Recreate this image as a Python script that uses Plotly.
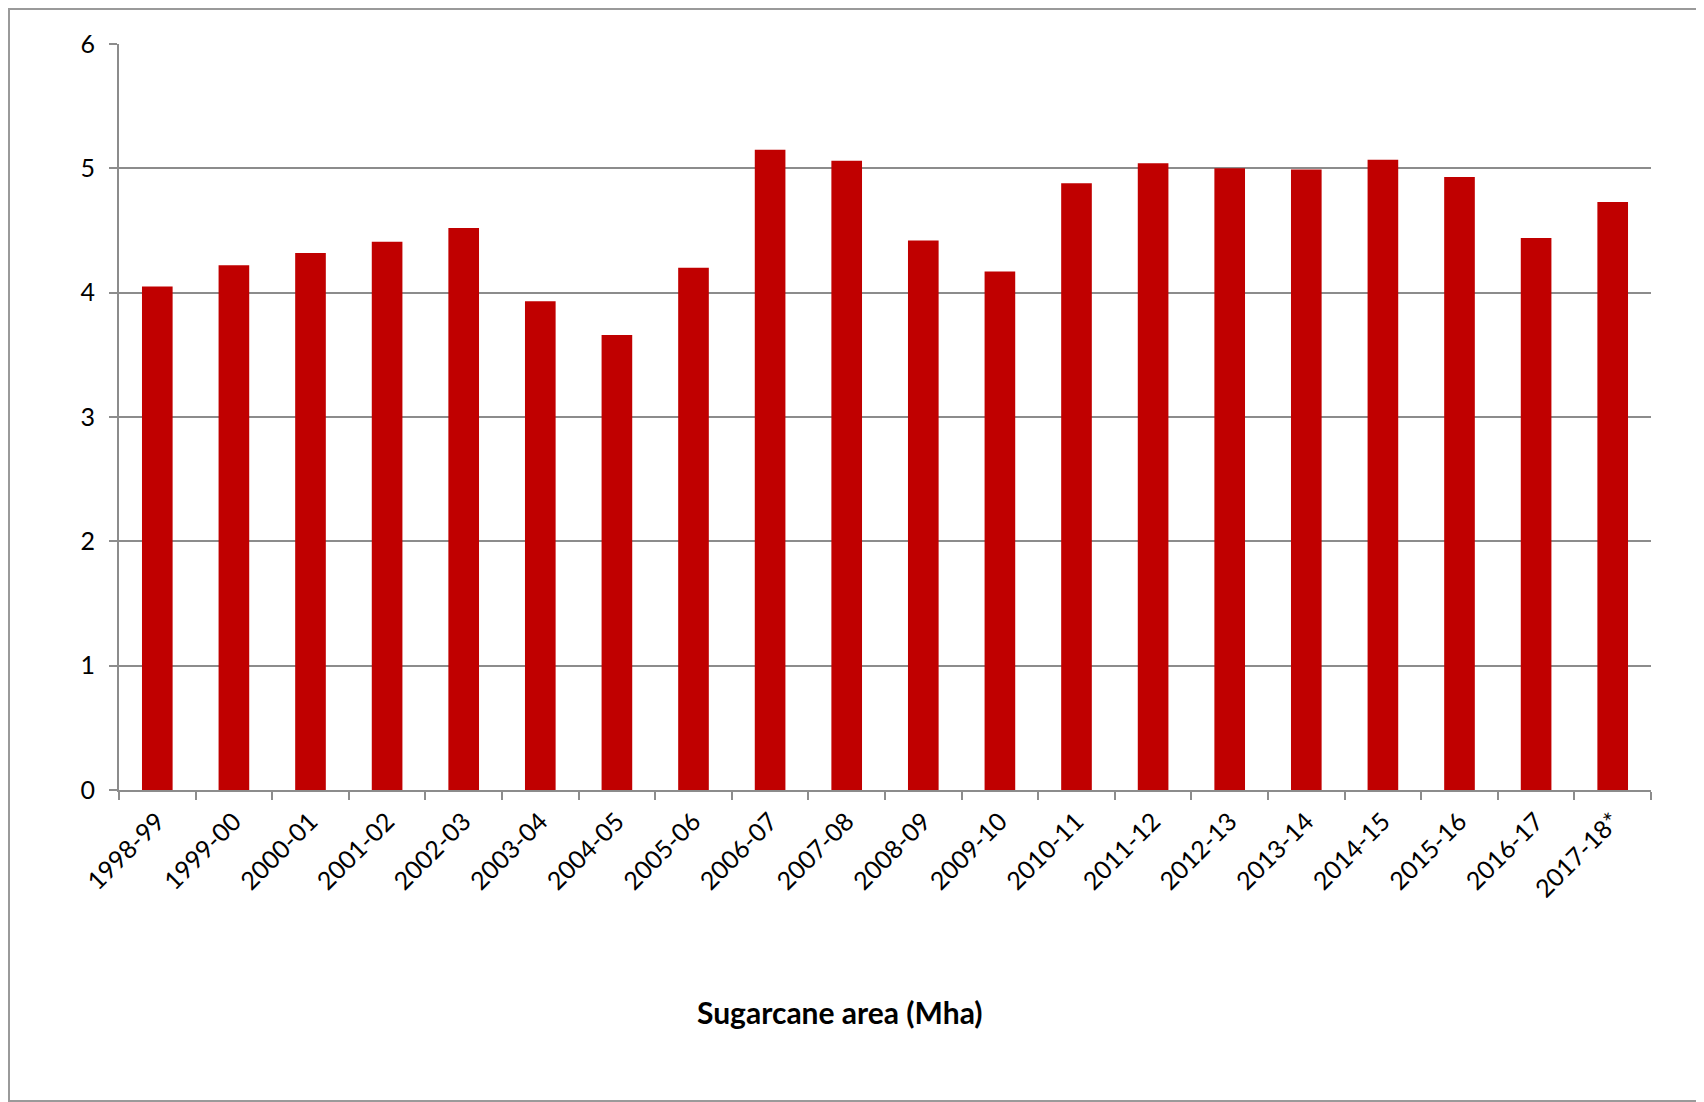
import plotly.graph_objects as go

seasons = ["1998-99", "1999-00", "2000-01", "2001-02", "2002-03", "2003-04",
           "2004-05", "2005-06", "2006-07", "2007-08", "2008-09", "2009-10",
           "2010-11", "2011-12", "2012-13", "2013-14", "2014-15", "2015-16",
           "2016-17", "2017-18*"]
area_mha = [4.05, 4.22, 4.32, 4.41, 4.52, 3.93, 3.66, 4.20, 5.15, 5.06,
            4.42, 4.17, 4.88, 5.04, 5.00, 4.99, 5.07, 4.93, 4.44, 4.73]
y_ticks = [0, 1, 2, 3, 4, 5, 6]

# page body adds an 8px margin, so the figure is a bit smaller than the window
W, H = 1696, 1094
L, T = 111, 36
pw, ph = 1532, 746
R, B = W - L - pw, H - T - ph

fig = go.Figure()
fig.add_trace(go.Bar(
    x=seasons,
    y=area_mha,
    marker=dict(color="#C00000", line=dict(width=0)),
    showlegend=False,
))

fig.update_layout(
    width=W, height=H,
    margin=dict(l=L, r=R, t=T, b=B),
    paper_bgcolor="white",
    plot_bgcolor="white",
    bargap=0.6,
    font=dict(family="Lato, Carlito, sans-serif", size=25, color="black"),
)

fig.update_xaxes(
    type="category",
    tickangle=-45,
    tickson="boundaries",
    ticks="outside", ticklen=8, tickwidth=2, tickcolor="#8c8c8c",
    showline=True, linecolor="#8c8c8c", linewidth=2,
    showgrid=False,
    tickfont=dict(size=25),
    ticklabelstandoff=5,
)
fig.update_yaxes(
    range=[0, 6],
    tickvals=y_ticks,
    ticks="outside", ticklen=8, tickwidth=2, tickcolor="#8c8c8c",
    showline=True, linecolor="#8c8c8c", linewidth=2,
    showgrid=True, gridcolor="#8c8c8c", gridwidth=2,
    zeroline=False,
    tickfont=dict(size=25),
    ticklabelstandoff=9,
)

# chart title below the axis
fig.add_annotation(
    text="<b>Sugarcane area (Mha)</b>",
    xref="paper", yref="paper",
    x=(840 - 8 - L) / pw, y=-(1012 - 790) / ph,
    xanchor="center", yanchor="middle",
    showarrow=False,
    font=dict(size=30, color="black"),
)

# outer frame
fig.add_shape(
    type="rect", xref="paper", yref="paper",
    x0=-(L - 1) / pw, x1=(pw + R - 1) / pw,
    y0=-(B - 1) / ph, y1=1 + (T - 1) / ph,
    line=dict(color="#9a9a9a", width=2),
    layer="below",
)

fig.write_html("out.html")
